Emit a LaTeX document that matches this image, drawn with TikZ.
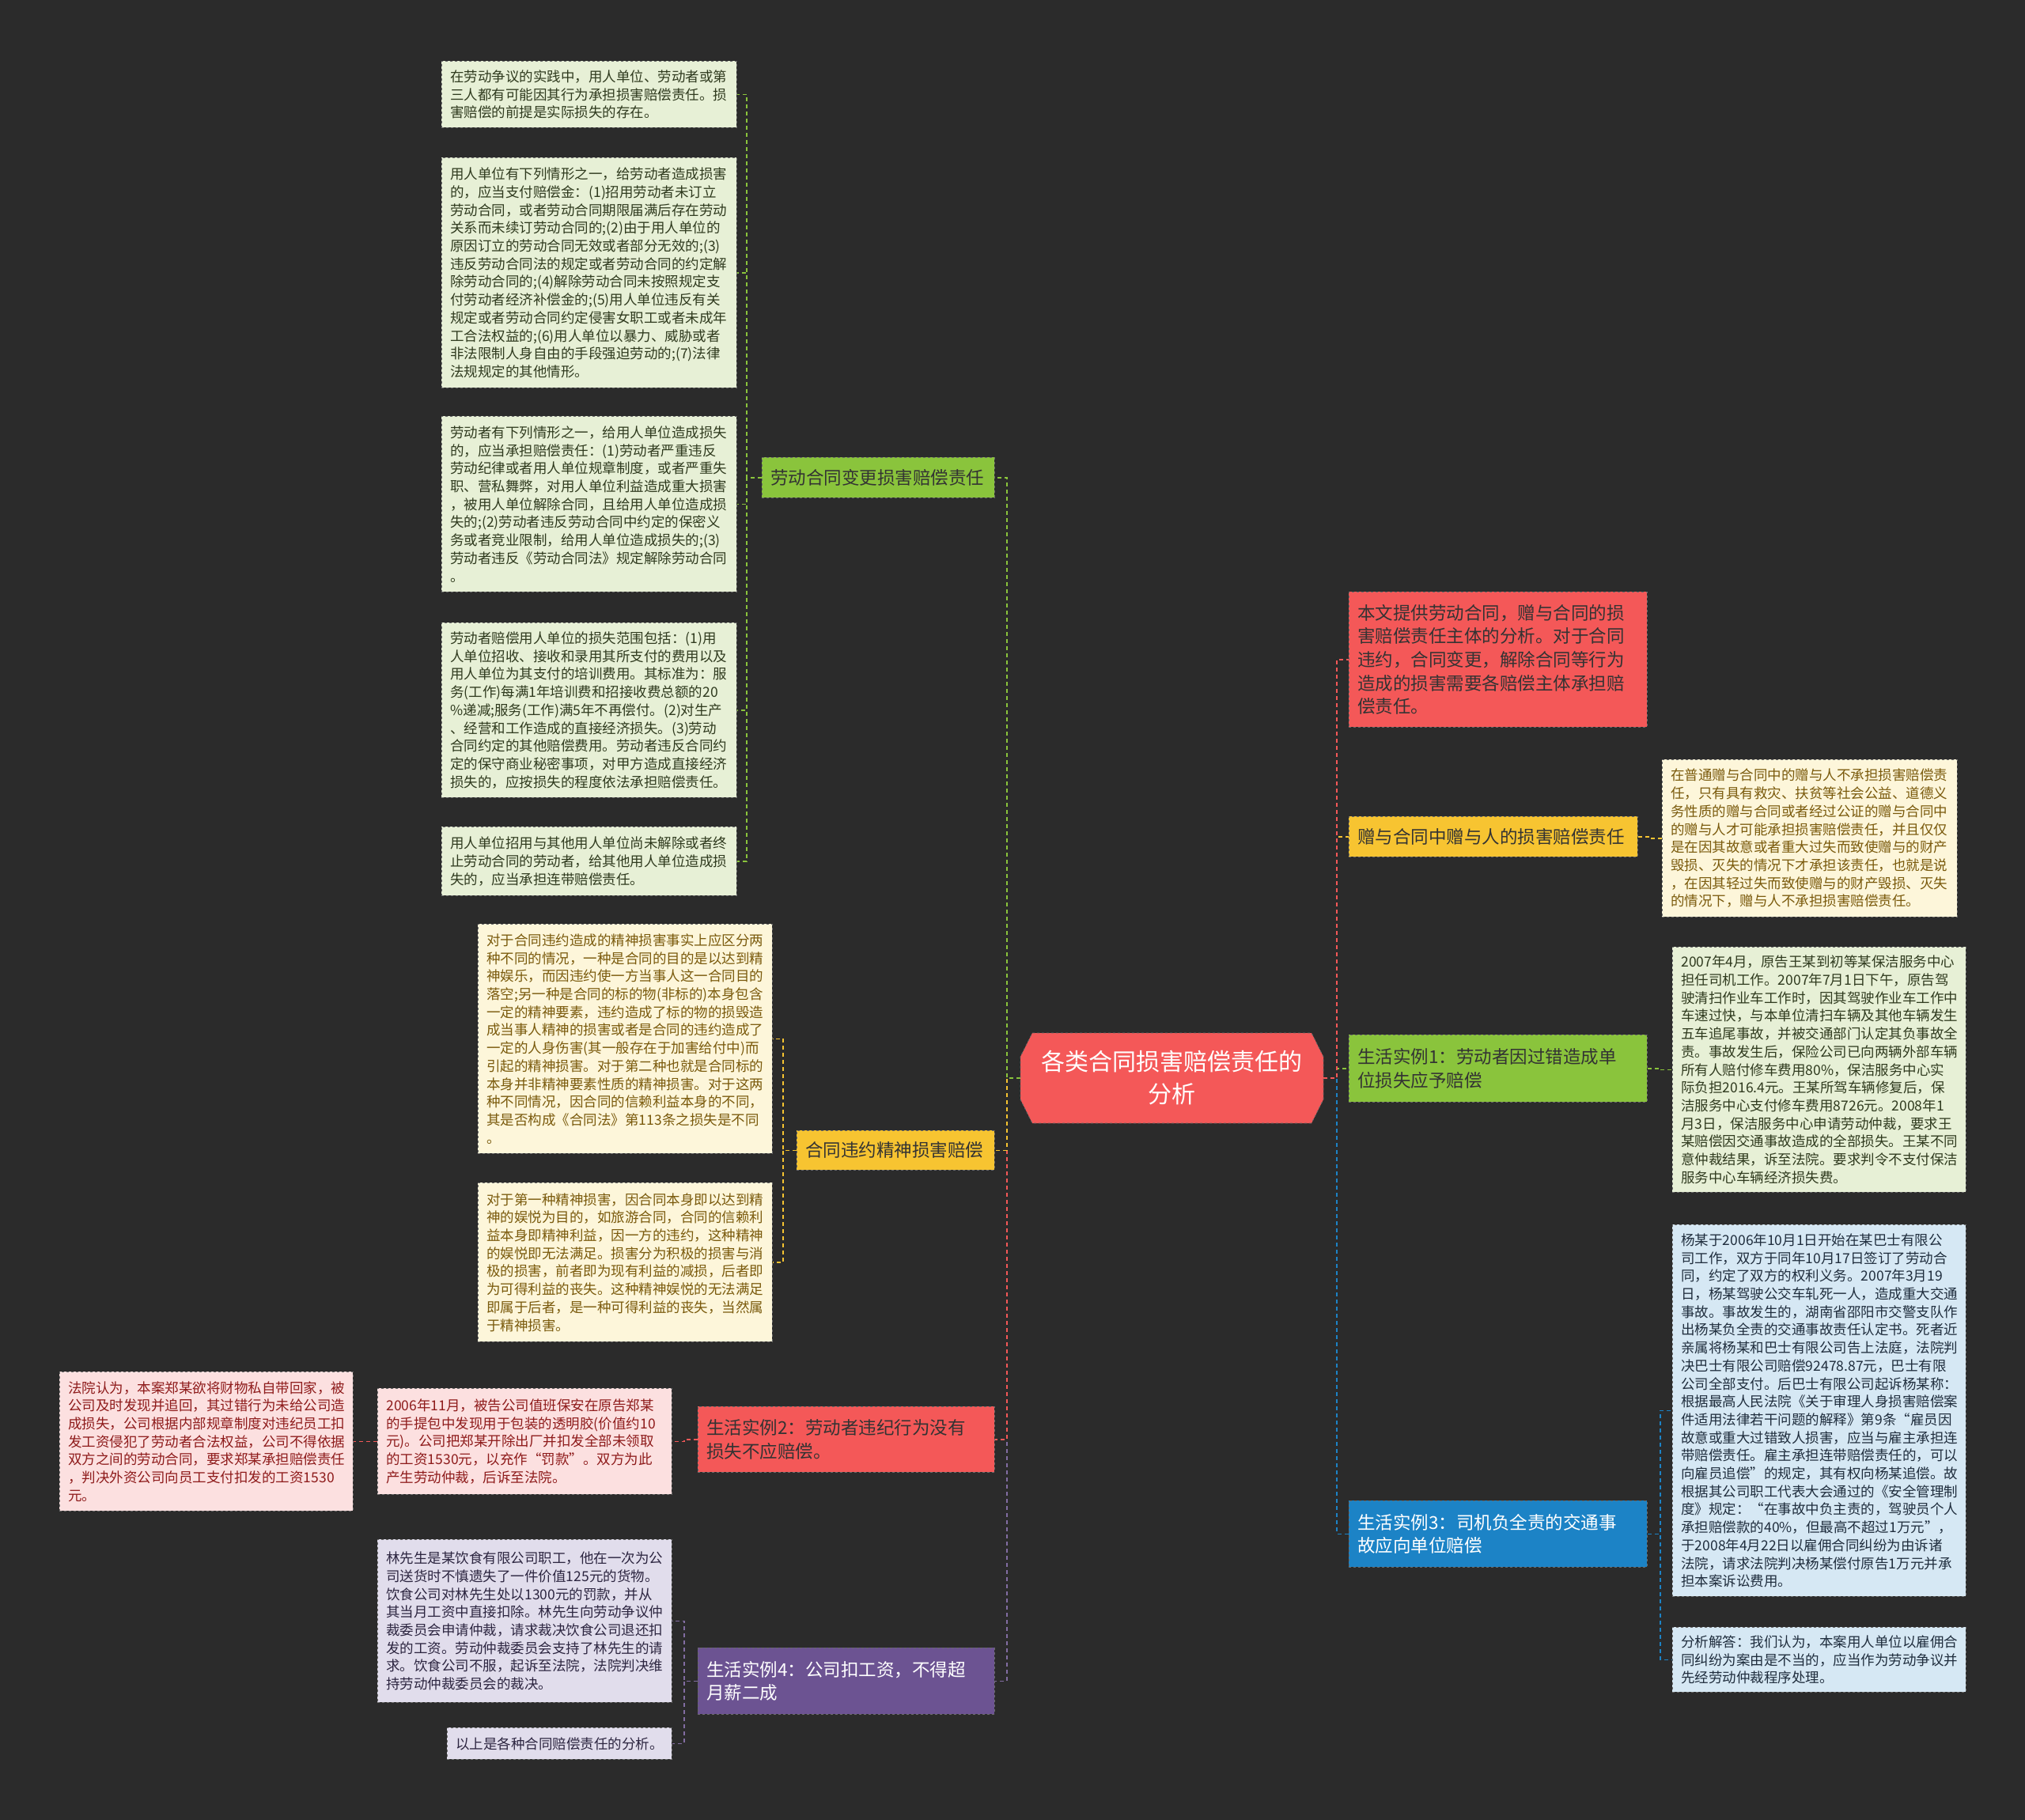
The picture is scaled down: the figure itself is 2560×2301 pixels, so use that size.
\documentclass[tikz,border=0pt]{standalone}
\usepackage{fontspec}
\setmainfont{Noto Sans CJK SC}
\usetikzlibrary{backgrounds}
\definecolor{bgc}{HTML}{2B2B2B}
\definecolor{mgreen}{HTML}{8AC43C}
\definecolor{myellow}{HTML}{F7C431}
\definecolor{mred}{HTML}{F45858}
\definecolor{mpurple}{HTML}{6C5392}
\definecolor{mblue}{HTML}{1C83C6}
\definecolor{lgreen}{HTML}{E7F0D6}
\definecolor{lyellow}{HTML}{FDF6DA}
\definecolor{lpink}{HTML}{FCE0E0}
\definecolor{llav}{HTML}{E1DDEC}
\definecolor{lblue}{HTML}{D6E8F4}
\definecolor{tgreen}{HTML}{2F3A1E}
\definecolor{tyellow}{HTML}{7A5A0C}
\definecolor{tpink}{HTML}{8E1B1B}
\definecolor{tlav}{HTML}{2C2540}
\definecolor{tblue}{HTML}{1F2D3D}
\definecolor{edge}{HTML}{6A6A6A}
\tikzset{
  box/.style={anchor=north west, draw=edge, dashed, line width=0.8pt, align=left, inner ysep=4pt},
  leafbox/.style={box, inner xsep=11pt, font=\fontsize{17.5}{22.7}\selectfont},
  mainbox/.style={box, inner xsep=11pt, font=\fontsize{22.5}{29.6}\selectfont},
  gleaf/.style={leafbox, fill=lgreen, text=tgreen},
  yleaf/.style={leafbox, fill=lyellow, text=tyellow},
  pleaf/.style={leafbox, fill=lpink, text=tpink},
  vleaf/.style={leafbox, fill=llav, text=tlav},
  bleaf/.style={leafbox, fill=lblue, text=tblue},
  conn/.style={dashed, dash pattern=on 5pt off 4pt, line width=1.6pt},
  cg/.style={conn, draw=mgreen},
  cy/.style={conn, draw=myellow},
  cr/.style={conn, draw=mred},
  cv/.style={conn, draw=mpurple!85!white},
  cb/.style={conn, draw=mblue},
}
\begin{document}
\begin{tikzpicture}[x=1pt,y=-1pt]
\begin{scope}[on background layer]
\fill[bgc] (0,0) rectangle (2560,2301);
\end{scope}
\useasboundingbox (0,0) rectangle (2560,2301);

% root
\fill[mred] (1305,1306) -- (1658,1306) -- (1673,1336) -- (1673,1390) -- (1658,1420) -- (1305,1420) -- (1290,1390) -- (1290,1336) -- cycle;
\draw[edge, dashed, line width=0.8pt] (1305,1306) -- (1658,1306) -- (1673,1336) -- (1673,1390) -- (1658,1420) -- (1305,1420) -- (1290,1390) -- (1290,1336) -- cycle;
\node[minimum width=383pt, minimum height=114pt, inner sep=0pt, align=center, text=white, font=\fontsize{30}{41}\selectfont] (root) at (1481.5,1363) {各类合同损害赔偿责任的\\分析};

% left main nodes
\node[mainbox, fill=mgreen, text=black!80, text width=272pt, minimum height=51pt] (lg) at (963,578) {劳动合同变更损害赔偿责任};
\node[mainbox, fill=myellow, text=black!80, text width=228pt, minimum height=50pt] (ly) at (1007,1429) {合同违约精神损害赔偿};
\node[mainbox, fill=mred, text=black!80, text width=353pt, minimum height=83pt] (lr) at (882,1778) {生活实例2：劳动者违纪行为没有\\损失不应赔偿。};
\node[mainbox, fill=mpurple, text=white, text width=353pt, minimum height=84pt] (lp) at (882,2083) {生活实例4：公司扣工资，不得超\\月薪二成};

% right main nodes
\node[mainbox, fill=mred, text=black!80, text width=355pt, minimum height=171pt] (rr) at (1705,748) {本文提供劳动合同，赠与合同的损\\害赔偿责任主体的分析。对于合同\\违约，合同变更，解除合同等行为\\造成的损害需要各赔偿主体承担赔\\偿责任。};
\node[mainbox, fill=myellow, text=black!80, text width=343pt, minimum height=51pt] (ry) at (1705,1032) {赠与合同中赠与人的损害赔偿责任};
\node[mainbox, fill=mgreen, text=black!80, text width=355pt, minimum height=85pt] (rg) at (1705,1308) {生活实例1：劳动者因过错造成单\\位损失应予赔偿};
\node[mainbox, fill=mblue, text=white, text width=355pt, minimum height=84pt] (rb) at (1705,1897) {生活实例3：司机负全责的交通事\\故应向单位赔偿};

% left leaves (green)
\node[gleaf, text width=351pt, minimum height=84pt] (L1) at (558,77) {在劳动争议的实践中，用人单位、劳动者或第\\三人都有可能因其行为承担损害赔偿责任。损\\害赔偿的前提是实际损失的存在。};
\node[gleaf, text width=351pt, minimum height=291pt] (L2) at (558,199) {用人单位有下列情形之一，给劳动者造成损害\\的，应当支付赔偿金：(1)招用劳动者未订立\\劳动合同，或者劳动合同期限届满后存在劳动\\关系而未续订劳动合同的;(2)由于用人单位的\\原因订立的劳动合同无效或者部分无效的;(3)\\违反劳动合同法的规定或者劳动合同的约定解\\除劳动合同的;(4)解除劳动合同未按照规定支\\付劳动者经济补偿金的;(5)用人单位违反有关\\规定或者劳动合同约定侵害女职工或者未成年\\工合法权益的;(6)用人单位以暴力、威胁或者\\非法限制人身自由的手段强迫劳动的;(7)法律\\法规规定的其他情形。};
\node[gleaf, text width=351pt, minimum height=222pt] (L3) at (558,526) {劳动者有下列情形之一，给用人单位造成损失\\的，应当承担赔偿责任：(1)劳动者严重违反\\劳动纪律或者用人单位规章制度，或者严重失\\职、营私舞弊，对用人单位利益造成重大损害\\，被用人单位解除合同，且给用人单位造成损\\失的;(2)劳动者违反劳动合同中约定的保密义\\务或者竞业限制，给用人单位造成损失的;(3)\\劳动者违反《劳动合同法》规定解除劳动合同\\。};
\node[gleaf, text width=351pt, minimum height=221pt] (L4) at (558,787) {劳动者赔偿用人单位的损失范围包括：(1)用\\人单位招收、接收和录用其所支付的费用以及\\用人单位为其支付的培训费用。其标准为：服\\务(工作)每满1年培训费和招接收费总额的20\\\%递减;服务(工作)满5年不再偿付。(2)对生产\\、经营和工作造成的直接经济损失。(3)劳动\\合同约定的其他赔偿费用。劳动者违反合同约\\定的保守商业秘密事项，对甲方造成直接经济\\损失的，应按损失的程度依法承担赔偿责任。};
\node[gleaf, text width=351pt, minimum height=87pt] (L5) at (558,1045) {用人单位招用与其他用人单位尚未解除或者终\\止劳动合同的劳动者，给其他用人单位造成损\\失的，应当承担连带赔偿责任。};

% yellow leaves
\node[yleaf, text width=350pt, minimum height=290pt] (M1) at (604,1168) {对于合同违约造成的精神损害事实上应区分两\\种不同的情况，一种是合同的目的是以达到精\\神娱乐，而因违约使一方当事人这一合同目的\\落空;另一种是合同的标的物(非标的)本身包含\\一定的精神要素，违约造成了标的物的损毁造\\成当事人精神的损害或者是合同的违约造成了\\一定的人身伤害(其一般存在于加害给付中)而\\引起的精神损害。对于第二种也就是合同标的\\本身并非精神要素性质的精神损害。对于这两\\种不同情况，因合同的信赖利益本身的不同，\\其是否构成《合同法》第113条之损失是不同\\。};
\node[yleaf, text width=350pt, minimum height=201pt] (M2) at (604,1495) {对于第一种精神损害，因合同本身即以达到精\\神的娱悦为目的，如旅游合同，合同的信赖利\\益本身即精神利益，因一方的违约，这种精神\\的娱悦即无法满足。损害分为积极的损害与消\\极的损害，前者即为现有利益的减损，后者即\\为可得利益的丧失。这种精神娱悦的无法满足\\即属于后者，是一种可得利益的丧失，当然属\\于精神损害。};

% pink leaves
\node[pleaf, text width=349pt, minimum height=176pt] (FL) at (75,1734) {法院认为，本案郑某欲将财物私自带回家，被\\公司及时发现并追回，其过错行为未给公司造\\成损失，公司根据内部规章制度对违纪员工扣\\发工资侵犯了劳动者合法权益，公司不得依据\\双方之间的劳动合同，要求郑某承担赔偿责任\\，判决外资公司向员工支付扣发的工资1530\\元。};
\node[pleaf, text width=350pt, minimum height=134pt] (P6) at (477,1755) {2006年11月，被告公司值班保安在原告郑某\\的手提包中发现用于包装的透明胶(价值约10\\元)。公司把郑某开除出厂并扣发全部未领取\\的工资1530元，以充作“罚款”。双方为此\\产生劳动仲裁，后诉至法院。};

% lavender leaves
\node[vleaf, text width=350pt, minimum height=206pt] (Lin) at (477,1946) {林先生是某饮食有限公司职工，他在一次为公\\司送货时不慎遗失了一件价值125元的货物。\\饮食公司对林先生处以1300元的罚款，并从\\其当月工资中直接扣除。林先生向劳动争议仲\\裁委员会申请仲裁，请求裁决饮食公司退还扣\\发的工资。劳动仲裁委员会支持了林先生的请\\求。饮食公司不服，起诉至法院，法院判决维\\持劳动仲裁委员会的裁决。};
\node[vleaf, text width=262pt, minimum height=40pt] (Last) at (565,2184) {以上是各种合同赔偿责任的分析。};

% right leaves
\node[yleaf, text width=351pt, minimum height=199pt] (Gift) at (2101,960) {在普通赠与合同中的赠与人不承担损害赔偿责\\任，只有具有救灾、扶贫等社会公益、道德义\\务性质的赠与合同或者经过公证的赠与合同中\\的赠与人才可能承担损害赔偿责任，并且仅仅\\是在因其故意或者重大过失而致使赠与的财产\\毁损、灭失的情况下才承担该责任，也就是说\\，在因其轻过失而致使赠与的财产毁损、灭失\\的情况下，赠与人不承担损害赔偿责任。};
\node[gleaf, text width=349pt, minimum height=310pt] (C1) at (2114,1197) {2007年4月，原告王某到初等某保洁服务中心\\担任司机工作。2007年7月1日下午，原告驾\\驶清扫作业车工作时，因其驾驶作业车工作中\\车速过快，与本单位清扫车辆及其他车辆发生\\五车追尾事故，并被交通部门认定其负事故全\\责。事故发生后，保险公司已向两辆外部车辆\\所有人赔付修车费用80\%，保洁服务中心实\\际负担2016.4元。王某所驾车辆修复后，保\\洁服务中心支付修车费用8726元。2008年1\\月3日，保洁服务中心申请劳动仲裁，要求王\\某赔偿因交通事故造成的全部损失。王某不同\\意仲裁结果，诉至法院。要求判令不支付保洁\\服务中心车辆经济损失费。};
\node[bleaf, text width=349pt, minimum height=470pt] (C3) at (2114,1548) {杨某于2006年10月1日开始在某巴士有限公\\司工作，双方于同年10月17日签订了劳动合\\同，约定了双方的权利义务。2007年3月19\\日，杨某驾驶公交车轧死一人，造成重大交通\\事故。事故发生的，湖南省邵阳市交警支队作\\出杨某负全责的交通事故责任认定书。死者近\\亲属将杨某和巴士有限公司告上法庭，法院判\\决巴士有限公司赔偿92478.87元，巴士有限\\公司全部支付。后巴士有限公司起诉杨某称：\\根据最高人民法院《关于审理人身损害赔偿案\\件适用法律若干问题的解释》第9条“雇员因\\故意或重大过错致人损害，应当与雇主承担连\\带赔偿责任。雇主承担连带赔偿责任的，可以\\向雇员追偿”的规定，其有权向杨某追偿。故\\根据其公司职工代表大会通过的《安全管理制\\度》规定：“在事故中负主责的，驾驶员个人\\承担赔偿款的40\%，但最高不超过1万元”，\\于2008年4月22日以雇佣合同纠纷为由诉诸\\法院，请求法院判决杨某偿付原告1万元并承\\担本案诉讼费用。};
\node[bleaf, text width=349pt, minimum height=82pt] (Ana) at (2114,2057) {分析解答：我们认为，本案用人单位以雇佣合\\同纠纷为案由是不当的，应当作为劳动争议并\\先经劳动仲裁程序处理。};

% connectors
\begin{scope}[on background layer]
\draw[cv] (root.west) -- ++(-17,0) |- (lp.east);
\draw[cr] (root.west) -- ++(-17,0) |- (lr.east);
\draw[cy] (root.west) -- ++(-17,0) |- (ly.east);
\draw[cg] (root.west) -- ++(-17,0) |- (lg.east);
\draw[cb] (root.east) -- ++(17,0) |- (rb.west);
\draw[cg] (root.east) -- ++(17,0) |- (rg.west);
\draw[cy] (root.east) -- ++(17,0) |- (ry.west);
\draw[cr] (root.east) -- ++(17,0) |- (rr.west);
\foreach \n in {L1,L2,L3,L4,L5} \draw[cg] (lg.west) -- ++(-19,0) |- (\n.east);
\foreach \n in {M1,M2} \draw[cy] (ly.west) -- ++(-17,0) |- (\n.east);
\draw[cr] (lr.west) -- ++(-17,0) |- (P6.east);
\draw[cr] (P6.west) -- (P6.west -| FL.east);
\foreach \n in {Lin,Last} \draw[cv] (lp.west) -- ++(-17,0) |- (\n.east);
\draw[cy] (ry.east) -- ++(15,0) |- (Gift.west);
\draw[cg] (rg.east) -- ++(16,0) |- (C1.west);
\foreach \n in {C3,Ana} \draw[cb] (rb.east) -- ++(16,0) |- (\n.west);
\end{scope}
\end{tikzpicture}
\end{document}
